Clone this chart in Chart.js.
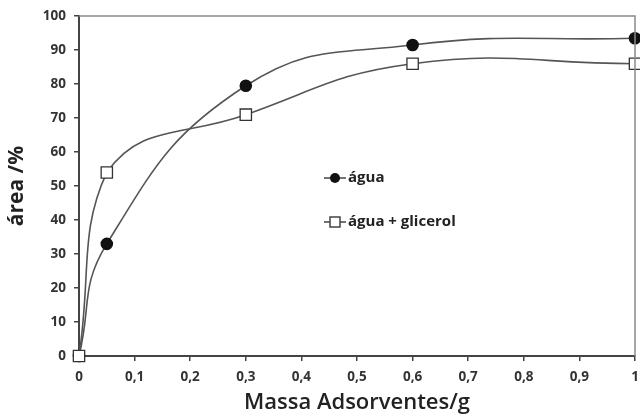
<!DOCTYPE html>
<html><head><meta charset="utf-8">
<script src="https://cdn.jsdelivr.net/npm/chart.js@4/dist/chart.umd.min.js"></script>
<style>html,body{margin:0;padding:0;background:#fff}#wrap{width:640px;height:420px}</style>
</head><body><div id="wrap"><canvas id="c" width="640" height="420"></canvas></div>
<script>
const xMass = [0, 0.05, 0.3, 0.6, 1];
const agua = [0, 33, 79.5, 91.5, 93.5];
const aguaGlicerol = [0, 54, 71, 86, 86];
const seriesNames = ['água', 'água + glicerol'];
const xTitle = 'Massa Adsorventes/g';
const yTitle = 'área /%';

const FONT = '"Open Sans", "Noto Sans", sans-serif';
const pts = (ys) => xMass.map((x, i) => ({x, y: ys[i]}));

const frame = {
  id: 'frame',
  afterDatasetsDraw(chart) {
    const {ctx, chartArea: a} = chart;
    ctx.save();
    ctx.strokeStyle = '#8a8a8a';
    ctx.lineWidth = 1.5;
    ctx.beginPath();
    ctx.moveTo(a.left, a.top); ctx.lineTo(a.right, a.top); ctx.lineTo(a.right, a.bottom);
    ctx.stroke();
    ctx.restore();
  },
  afterDraw(chart) {
    const {ctx} = chart;
    ctx.save();
    ctx.font = 'bold 15px ' + FONT;
    ctx.fillStyle = '#222';
    ctx.textBaseline = 'middle';
    ctx.strokeStyle = '#444';
    ctx.lineWidth = 1.5;
    let y = 178;
    ctx.beginPath(); ctx.moveTo(324, y); ctx.lineTo(346, y); ctx.stroke();
    ctx.beginPath(); ctx.arc(335, y, 5, 0, Math.PI * 2); ctx.fillStyle = '#111'; ctx.fill();
    ctx.fillStyle = '#222';
    ctx.fillText(seriesNames[0], 348, y);
    y = 222;
    ctx.beginPath(); ctx.moveTo(324, y); ctx.lineTo(346, y); ctx.stroke();
    ctx.fillStyle = '#fff';
    ctx.fillRect(330, y - 5, 10, 10);
    ctx.strokeRect(330, y - 5, 10, 10);
    ctx.fillStyle = '#222';
    ctx.fillText(seriesNames[1], 348, y);
    ctx.restore();
  }
};

new Chart(document.getElementById('c'), {
  type: 'line',
  data: {
    datasets: [
      {label: seriesNames[1], data: pts(aguaGlicerol), borderColor: '#555', borderWidth: 1.6,
       pointStyle: 'rect', pointRadius: 8, pointBackgroundColor: '#fff', pointBorderColor: '#333', pointBorderWidth: 1.3,
       tension: 0.45, clip: false},
      {label: seriesNames[0], data: pts(agua), borderColor: '#555', borderWidth: 1.6,
       pointStyle: 'circle', pointRadius: 5.5, pointBackgroundColor: '#111', pointBorderColor: '#111',
       tension: 0.45, clip: false}
    ]
  },
  options: {
    responsive: false, animation: false,
    layout: {autoPadding: false, padding: {top: 16, right: 0, left: 0, bottom: 0}},
    plugins: {legend: {display: false}, tooltip: {enabled: false}},
    scales: {
      x: {
        type: 'linear', min: 0, max: 1,
        ticks: {stepSize: 0.1, color: '#333', font: {family: FONT, size: 13.5, weight: 'bold'}, maxRotation: 0, padding: 8,
          callback: v => String(Number(v.toFixed(1))).replace('.', ',')},
        grid: {drawOnChartArea: false, color: '#444', tickLength: 5, lineWidth: 1.5},
        border: {color: '#444', width: 2},
        title: {display: true, text: xTitle, color: '#222', font: {family: FONT, size: 22, weight: '600'}, padding: {top: 2}},
        afterFit: s => { s.height = 64; s.paddingRight = 5; }
      },
      y: {
        min: 0, max: 100,
        ticks: {stepSize: 10, color: '#333', font: {family: FONT, size: 13.5, weight: 'bold'}, padding: 8},
        grid: {drawOnChartArea: false, color: '#444', tickLength: 5, lineWidth: 1.5},
        border: {color: '#444', width: 2},
        title: {display: true, text: yTitle, color: '#222', font: {family: FONT, size: 21, weight: 'bold'}, padding: {bottom: 2}},
        afterFit: s => { s.width = 79; }
      }
    }
  },
  plugins: [frame]
});
</script></body></html>
